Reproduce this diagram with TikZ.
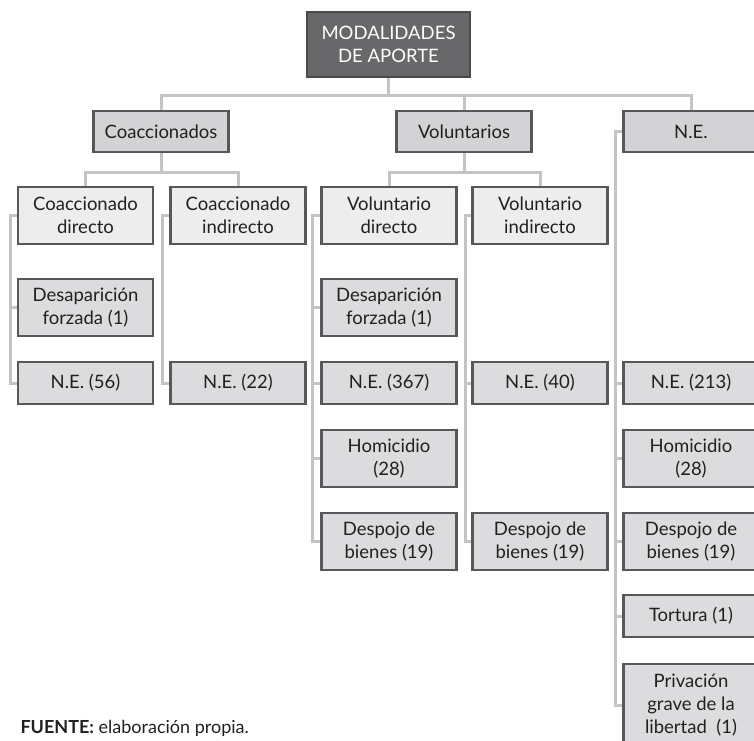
\documentclass[tikz,border=0pt]{standalone}
\usepackage{fontspec}
\setmainfont{Lato}
\usepackage{tikz}

\definecolor{rootgray}{HTML}{68686A}
\definecolor{rootline}{HTML}{4A4A4C}
\definecolor{boxline}{HTML}{58585A}
\definecolor{catgray}{HTML}{D3D3D5}
\definecolor{subgray}{HTML}{EDEDEE}
\definecolor{leafgray}{HTML}{DCDCDE}
\definecolor{linkgray}{HTML}{C4C4C6}
\definecolor{txt}{HTML}{231F20}

\tikzset{
  box/.style={draw=boxline, line width=2.2pt, align=center, inner sep=0pt,
    minimum width=135pt, text=txt, font=\fontsize{18.5}{23}\selectfont},
  rootbox/.style={box, fill=rootgray, draw=rootline, text=white,
    minimum width=163pt, minimum height=65pt},
  catbox/.style={box, fill=catgray, minimum height=41pt},
  subbox/.style={box, fill=subgray, minimum height=57pt},
  leafbox/.style={box, fill=leafgray, minimum height=42pt},
  leaftwo/.style={leafbox, minimum height=57pt},
  link/.style={draw=linkgray, line width=3pt}
}

\begin{document}
\begin{tikzpicture}[x=1pt,y=-1pt]
  \useasboundingbox (0,0) rectangle (754,740);
  \clip (0,0) rectangle (754,740);

  % top levels
  \node[rootbox] at (388.5,44.5) (root) {MODALIDADES\\DE APORTE};
  \node[catbox] at (161,131.5) (coac) {Coaccionados};
  \node[catbox] at (464,131.5) (volu) {Voluntarios};
  \node[catbox] at (691,131.5) (ne) {N.E.};

  \node[subbox] at (85.5,215.5) (cdir) {Coaccionado\\directo};
  \node[subbox] at (238,215.5) (cind) {Coaccionado\\indirecto};
  \node[subbox] at (389,215.5) (vdir) {Voluntario\\directo};
  \node[subbox] at (540,215.5) (vind) {Voluntario\\indirecto};

  % leaves
  \node[leaftwo] at (85.5,307.5) (cdes) {Desaparición\\forzada (1)};
  \node[leafbox] at (85.5,383) (cne) {N.E. (56)};
  \node[leafbox] at (238,383) (cine) {N.E. (22)};

  \node[leaftwo] at (389,307.5) (vdes) {Desaparición\\forzada (1)};
  \node[leafbox] at (389,383) (vne) {N.E. (367)};
  \node[leaftwo] at (389,458.5) (vhom) {Homicidio\\(28)};
  \node[leaftwo] at (389,541.5) (vdsp) {Despojo de\\bienes (19)};

  \node[leafbox] at (540,383) (vine) {N.E. (40)};
  \node[leaftwo] at (540,541.5) (vidsp) {Despojo de\\bienes (19)};

  \node[leafbox] at (691,383) (nne) {N.E. (213)};
  \node[leaftwo] at (691,458.5) (nhom) {Homicidio\\(28)};
  \node[leaftwo] at (691,541.5) (ndsp) {Despojo de\\bienes (19)};
  \node[leafbox] at (691,616) (ntor) {Tortura (1)};
  \node[box, fill=leafgray, minimum height=82pt] at (691,705) (npriv) {Privación\\grave de la\\libertad\ \ (1)};

  % connectors
  \coordinate (top) at (388.5,95);
  \draw[link] (root.south) -- (top);
  \draw[link] (coac.north) -- (coac.north |- top) -- (ne.north |- top) -- (ne.north);
  \draw[link] (volu.north) -- (volu.north |- top);

  \coordinate (cjoin) at (161,172);
  \draw[link] (coac.south) -- (cjoin);
  \draw[link] (cdir.north) -- (cdir.north |- cjoin) -- (cind.north |- cjoin) -- (cind.north);
  \coordinate (vjoin) at (464,172);
  \draw[link] (volu.south) -- (vjoin);
  \draw[link] (vdir.north) -- (vdir.north |- vjoin) -- (vind.north |- vjoin) -- (vind.north);

  \coordinate (cbar) at ([xshift=-6pt]cdir.west);
  \draw[link] (cdir.west) -- (cbar) |- (cne.west);
  \draw[link] (cbar |- cdes.west) -- (cdes.west);

  \coordinate (cibar) at ([xshift=-7pt]cind.west);
  \draw[link] (cind.west) -- (cibar) |- (cine.west);

  \coordinate (vbar) at ([xshift=-8pt]vdir.west);
  \draw[link] (vdir.west) -- (vbar) |- (vdsp.west);
  \draw[link] (vbar |- vdes.west) -- (vdes.west);
  \draw[link] (vbar |- vne.west) -- (vne.west);
  \draw[link] (vbar |- vhom.west) -- (vhom.west);

  \coordinate (vibar) at ([xshift=-6pt]vind.west);
  \draw[link] (vind.west) -- (vibar) |- (vidsp.west);
  \draw[link] (vibar |- vine.west) -- (vine.west);

  \coordinate (nbar) at ([xshift=-7pt]ne.west);
  \draw[link] (ne.west) -- (nbar) |- (npriv.west);
  \draw[link] (nbar |- nne.west) -- (nne.west);
  \draw[link] (nbar |- nhom.west) -- (nhom.west);
  \draw[link] (nbar |- ndsp.west) -- (ndsp.west);
  \draw[link] (nbar |- ntor.west) -- (ntor.west);

  \node[anchor=base west, text=txt, font=\fontsize{18}{23}\selectfont] at (17,733) (src)
    {\textbf{FUENTE:} elaboración propia.};
\end{tikzpicture}
\end{document}
